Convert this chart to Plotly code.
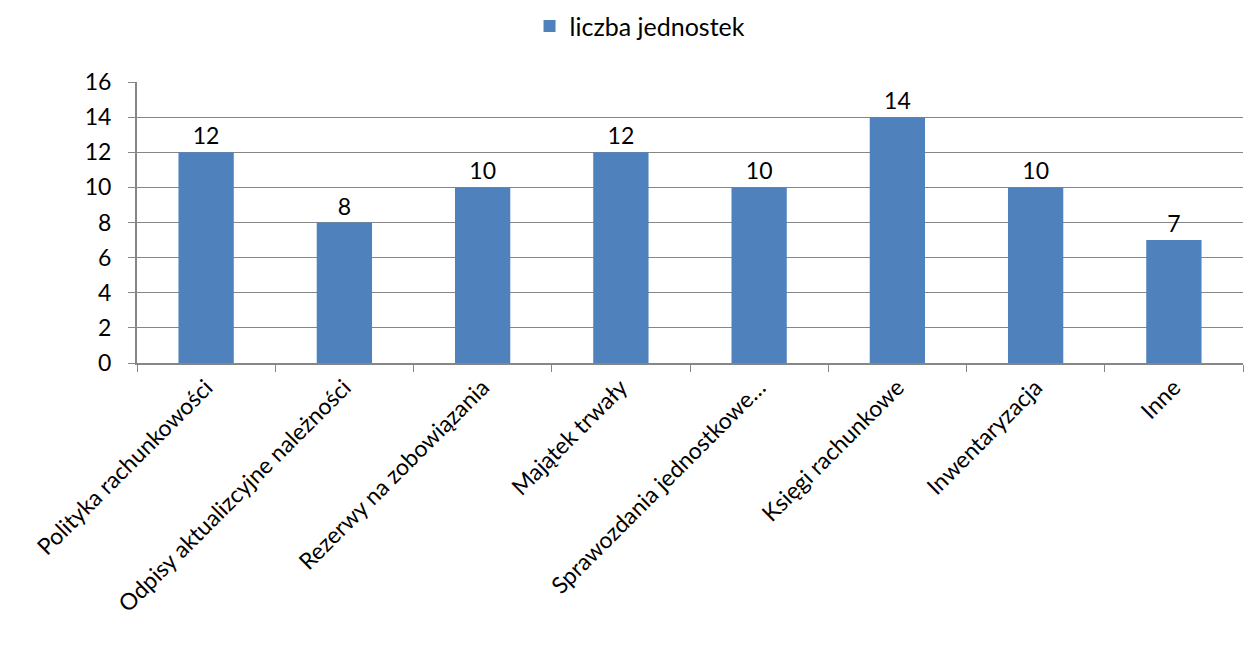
import plotly.graph_objects as go

categories = ["Polityka rachunkowości", "Odpisy aktualizcyjne należności", "Rezerwy na zobowiązania",
              "Majątek trwały", "Sprawozdania jednostkowe…", "Księgi rachunkowe", "Inwentaryzacja", "Inne"]
values = [12, 8, 10, 12, 10, 14, 10, 7]
series_name = "liczba jednostek"
y_ticks = [0, 2, 4, 6, 8, 10, 12, 14, 16]

FONT = "Lato"
FS = 23
fig = go.Figure()
fig.add_trace(go.Bar(
    x=categories, y=values, name=series_name,
    marker=dict(color="#4F81BD", line=dict(width=0)),
    text=[str(v) for v in values], textposition="outside",
    textfont=dict(family=FONT, size=FS, color="#000000"),
    cliponaxis=False,
))
fig.update_layout(
    width=1244, height=648,
    margin=dict(l=137, r=1, t=82, b=285, autoexpand=False),
    paper_bgcolor="white", plot_bgcolor="white",
    bargap=0.6,
    showlegend=True,
    legend=dict(orientation="h", x=0.5145, xref="container", xanchor="center",
                y=0.995, yref="container", yanchor="top",
                font=dict(family=FONT, size=25, color="#000000"), itemwidth=30),
    font=dict(family=FONT, size=FS, color="#000000"),
    xaxis=dict(tickangle=-45, showline=True, linecolor="#868686", linewidth=2,
               ticks="outside", tickson="boundaries", ticklen=7, tickcolor="#868686",
               tickfont=dict(family=FONT, size=FS, color="#000000"), showgrid=False,
               automargin=False),
    yaxis=dict(range=[0, 16], tickvals=y_ticks, showline=True, linecolor="#868686", linewidth=2,
               ticks="outside", ticklen=7, tickcolor="#868686", ticklabelstandoff=12,
               gridcolor="#868686", gridwidth=1, zeroline=False, automargin=False,
               tickfont=dict(family=FONT, size=FS, color="#000000")),
)
fig.write_html("out.html", config={"displayModeBar": False})

with open("out.html", encoding="utf-8") as f:
    html = f.read()
html = html.replace("<head>", "<head><style>html,body{margin:0;padding:0;overflow:hidden;}</style>", 1)
with open("out.html", "w", encoding="utf-8") as f:
    f.write(html)
